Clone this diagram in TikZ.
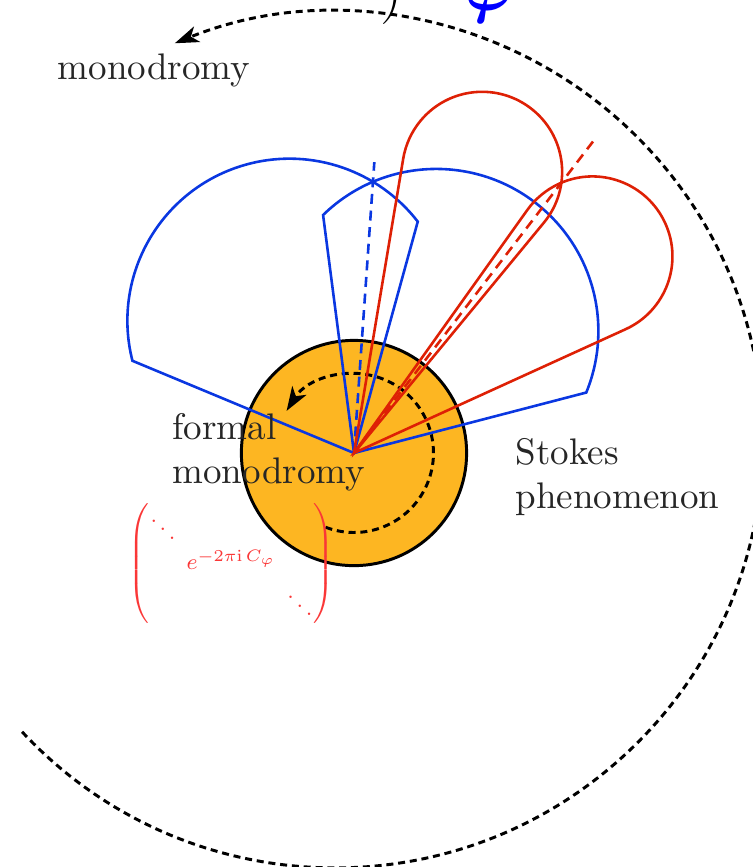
\documentclass[tikz,border=0pt]{standalone}
\usepackage{amsmath,amssymb}
\usepackage{xcolor}
\usetikzlibrary{arrows.meta}

\definecolor{sblue}{RGB}{10,55,225}
\definecolor{sred}{RGB}{222,32,5}
\definecolor{mred}{RGB}{250,55,55}
\definecolor{discorange}{RGB}{253,182,34}

\begin{document}
\begin{tikzpicture}[
  lbl/.style={text=black!85},
  blueline/.style={sblue, line width=0.7pt},
  redline/.style={sred, line width=0.7pt},
  loopdash/.style={black, line width=0.8pt, dash pattern=on 1.9pt off 1.3pt},
  raydash/.style={dash pattern=on 2.7pt off 1.8pt},
  looptip/.style={-{Stealth[length=6.5pt,width=4.5pt,inset=1.8pt]}}
]
\useasboundingbox (-3.363,-3.933) rectangle (3.79,4.3035);
\coordinate (O) at (0,0);
\coordinate (C) at (-0.18,0.1235);

% outer monodromy loop
\draw[loopdash, looptip] ([shift={(-137:4.065)}]C) arc[start angle=-137, end angle=112, radius=4.065];

% formal disc
\filldraw[fill=discorange, draw=black, line width=0.8pt] (O) circle (1.07cm);
\draw[loopdash, looptip] ([shift={(-111:0.755)}]O) arc[start angle=-111, end angle=148, radius=0.755];

% Stokes sectors
\foreach \m in {116,56}
  \draw[blueline] (O) -- ++(\m+41.4:2.28) arc[start angle=\m+78.3, delta angle=-156.6, radius=1.54] -- cycle;
\draw[blueline, raydash] (O) -- (86:2.77);

% petals
\foreach \m in {65.5,39.5}
  \draw[redline] (O) -- ++(\m-15:2.836) arc[start angle=\m-105, end angle=\m+105, radius=0.76] -- cycle;
\draw[redline, raydash] (O) -- (52.5:3.73);

% labels
\node[lbl] (mono) at (-1.90,3.63) {monodromy};
\node[lbl, align=left, anchor=west, inner sep=0] (fmono) at (-1.73,0.01) {formal\\monodromy};
\node[lbl, align=left, anchor=west, inner sep=0] (stokes) at (1.53,-0.228) {Stokes\\phenomenon};
\node[text=mred, font=\footnotesize, scale=0.75] (mat) at (-1.164,-1.05)
  {\setlength{\arraycolsep}{1.8pt}$\begin{pmatrix}\ddots & & \\ & e^{-2\pi\mathrm{i}\,C_\varphi} & \\ & & \ddots\end{pmatrix}$};
\node[anchor=base, font=\LARGE] (paren) at (0.36,4.22) {$)$};
\node[anchor=base, font=\LARGE, text=blue] (phi) at (1.29,4.20) {$\boldsymbol{\varphi}$};
\end{tikzpicture}
\end{document}
